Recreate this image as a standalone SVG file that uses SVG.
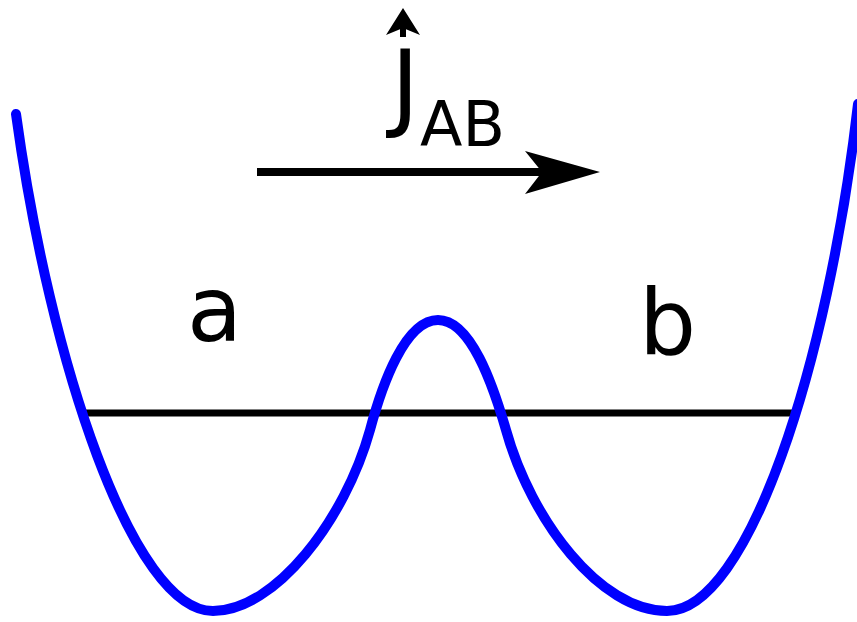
<svg xmlns="http://www.w3.org/2000/svg" width="857" height="622" viewBox="0 0 857 622">
<style>
.lbl{font-family:"DejaVu Sans","Liberation Sans",sans-serif;fill:#000}
.pot{fill:none;stroke:#0000ff;stroke-width:10;stroke-linecap:round;stroke-linejoin:round}
.lev{fill:none;stroke:#000;stroke-width:7}
</style>
<rect width="857" height="622" fill="#fff"/>
<g id="connectors">
<line id="level" class="lev" x1="85" y1="413" x2="793" y2="413"/>
<g id="flux-arrow">
<line x1="257" y1="172" x2="548" y2="172" stroke="#000" stroke-width="8"/>
<path d="M600,172 L525,151 L542,172 L525,194 Z" fill="#000"/>
</g>
</g>
<g id="potential">
<path class="pot" d="M16,114 C50,363 133,611 213,611 C275,611 345,520 370,430 C382,385 405,320 438,320 C471,320 493,385 506,430 C531,520 600,611 667,611 C748,611 828,365 858,104"/>
</g>
<g id="label-j">
<path d="M403,8 L420,35 L403,28 L386,35 Z" fill="#000"/>
<rect x="400" y="28" width="6" height="9" fill="#000"/>
<text class="lbl" x="391" y="119" font-size="96">J</text>
<text class="lbl" x="420" y="146" font-size="62">AB</text>
</g>
<g id="label-a"><text class="lbl" x="187" y="341" font-size="90">a</text></g>
<g id="label-b"><text class="lbl" x="639" y="354" font-size="90">b</text></g>
</svg>
